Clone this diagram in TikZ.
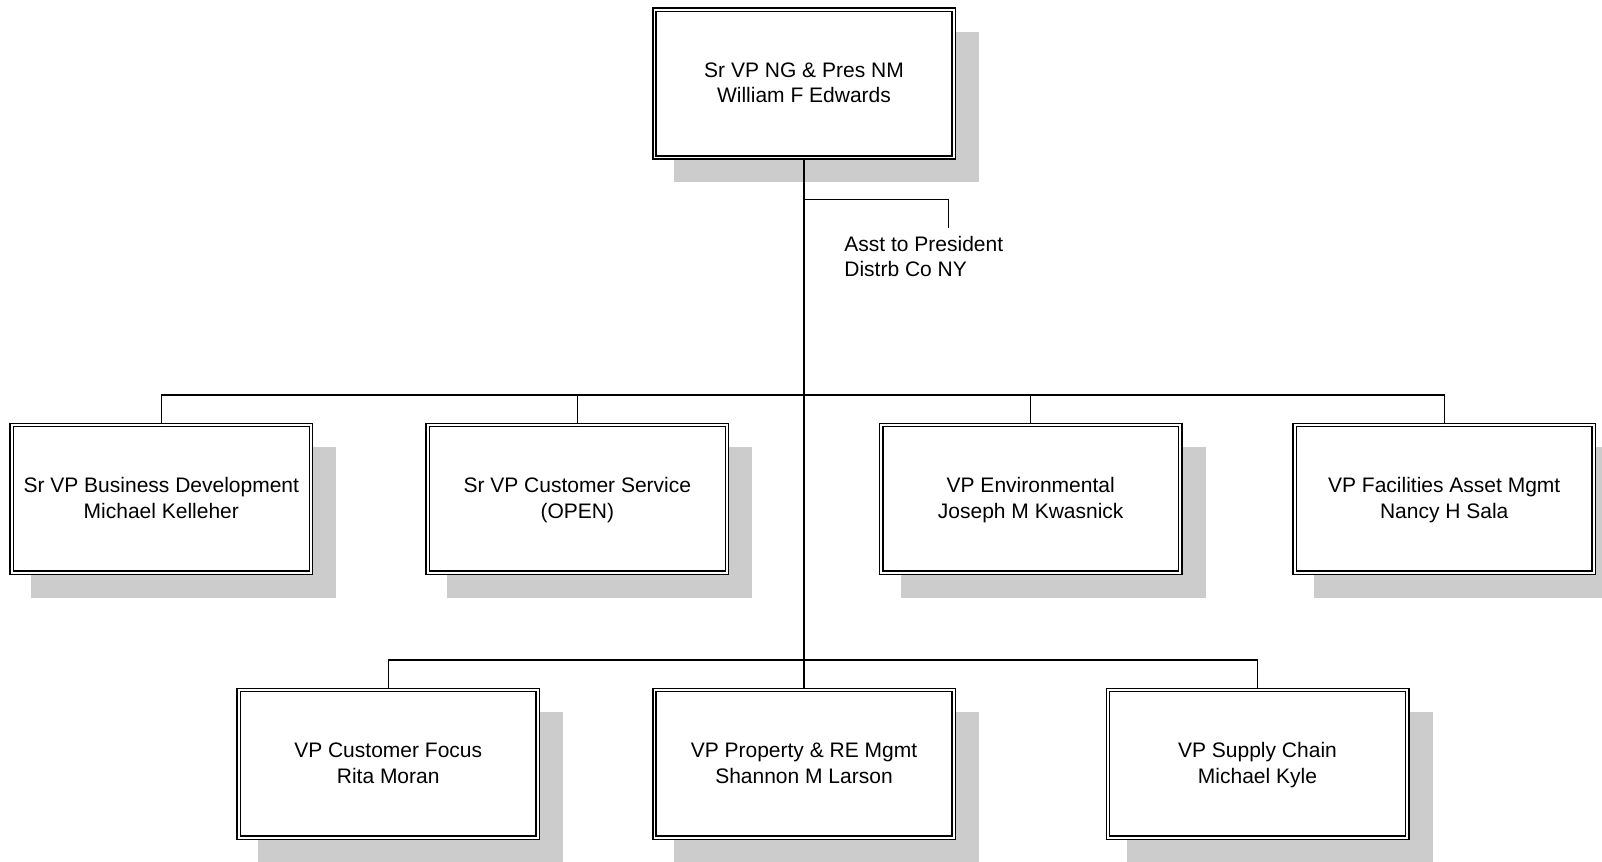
\documentclass[tikz,border=0pt]{standalone}
\usepackage{fontspec}
\setmainfont{Liberation Sans}
\usetikzlibrary{shadows}
\tikzset{
  orgunit/.style={draw, line width=0.75pt, double, double distance=0.9pt,
    fill=white, minimum width=149.6pt, minimum height=73.9pt, inner sep=0pt,
    align=center, font=\fontsize{10.5}{12.8}\selectfont,
    drop shadow={shadow xshift=11pt, shadow yshift=-11.5pt, shadow scale=1.02,
      fill=black!20, opacity=1}},
  link/.style={line width=0.7pt}
}
\newcommand{\unitstrut}{\rule[-2.9pt]{0pt}{12.4pt}}
\newcommand{\staffbox}[4]{
\node[orgunit] (#1) at #2 {#3\unitstrut\\#4\unitstrut};}

\begin{document}
\begin{tikzpicture}[x=0.5pt,y=-0.5pt]
\useasboundingbox (0,0) rectangle (1602,862);
\staffbox{pres}{(804,83.5)}{Sr VP NG \& Pres NM}{William F Edwards}
\staffbox{bizdev}{(161.3,498.9)}{Sr VP Business Development}{Michael Kelleher}
\staffbox{custsvc}{(577.3,498.9)}{Sr VP Customer Service}{(OPEN)}
\staffbox{envir}{(1030.7,498.9)}{VP Environmental}{Joseph M Kwasnick}
\staffbox{facil}{(1444.2,498.9)}{VP Facilities Asset Mgmt}{Nancy H Sala}
\staffbox{custfoc}{(388.2,763.9)}{VP Customer Focus}{Rita Moran}
\staffbox{prop}{(804,763.9)}{VP Property \& RE Mgmt}{Shannon M Larson}
\staffbox{supply}{(1257.5,763.9)}{VP Supply Chain}{Michael Kyle}
\node[anchor=north west, inner sep=0pt, align=left,
  font=\fontsize{10.5}{12.5}\selectfont] (asstname) at (844,236)
  {Asst to President\\Distrb Co NY};
% connectors
\coordinate (asstjoin) at (804,199.3);
\coordinate (asst) at (948.3,227.7);
\coordinate (bus1) at (804,395);
\coordinate (bus2) at (804,660);
\draw[link] (pres) -- (prop);
\draw[link] (asstjoin) -| (asst);
\foreach \n in {bizdev,custsvc,envir,facil}
  \draw[link] (\n.north) |- (bus1);
\foreach \n in {custfoc,supply}
  \draw[link] (\n.north) |- (bus2);
\end{tikzpicture}
\end{document}
